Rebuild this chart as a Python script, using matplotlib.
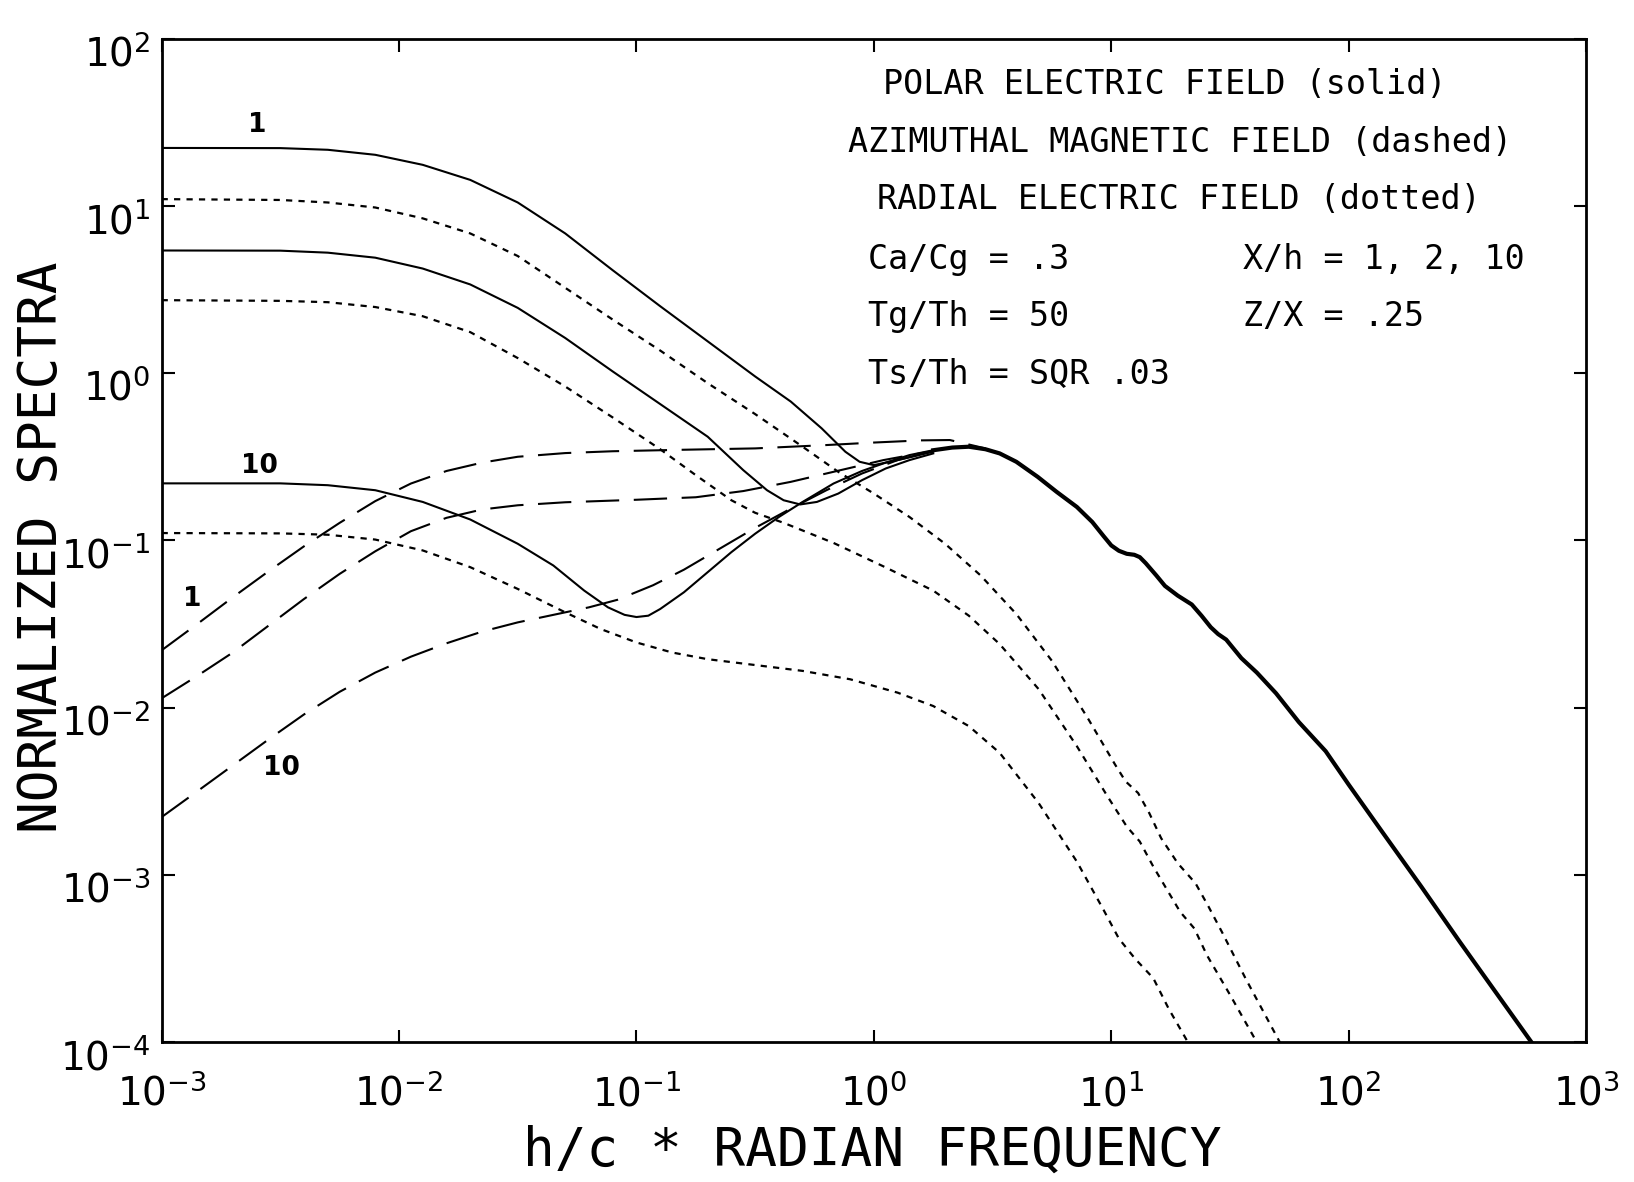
import numpy as np
import matplotlib
matplotlib.use('Agg')
import matplotlib.pyplot as plt
import matplotlib.transforms as mtrans

# valores, en log10 (x = h/c * frecuencia, y = espectro normalizado)
# campo electrico polar (solido), X/h = 1, 2, 10
s1_x = [-3.0, -2.5, -2.3, -2.1, -1.9, -1.7, -1.5, -1.3, -1.1, -0.9, -0.7, -0.5, -0.35, -0.22, -0.12, -0.06, 0.0, 0.1, 0.25]
s1_y = [1.346, 1.345, 1.335, 1.305, 1.245, 1.155, 1.02, 0.835, 0.615, 0.40, 0.19, -0.02, -0.17, -0.33, -0.47, -0.53, -0.55, -0.52, -0.47]
s2_x = [-3.0, -2.5, -2.3, -2.1, -1.9, -1.7, -1.5, -1.3, -1.1, -0.9, -0.7, -0.55, -0.45, -0.38, -0.31, -0.24, -0.15, -0.05, 0.05, 0.15, 0.25]
s2_y = [0.733, 0.732, 0.72, 0.69, 0.625, 0.53, 0.39, 0.21, 0.01, -0.185, -0.38, -0.58, -0.70, -0.76, -0.785, -0.77, -0.72, -0.64, -0.57, -0.52, -0.48]
s10_x = [-3.0, -2.5, -2.3, -2.1, -1.9, -1.7, -1.5, -1.35, -1.22, -1.12, -1.05, -1.0, -0.95, -0.9, -0.8, -0.7, -0.6, -0.5,
         -0.4, -0.3, -0.17, -0.05, 0.05, 0.15, 0.25]
s10_y = [-0.659, -0.659, -0.67, -0.70, -0.77, -0.875, -1.02, -1.15, -1.30, -1.40, -1.445, -1.458, -1.45, -1.41, -1.31, -1.19,
         -1.07, -0.96, -0.86, -0.77, -0.66, -0.585, -0.535, -0.49, -0.461]
# tramo comun de alta frecuencia (las tres curvas superpuestas)
tail_x = [0.25, 0.33, 0.40, 0.47, 0.53, 0.6, 0.69, 0.77, 0.855, 0.92, 0.968, 1.0, 1.032, 1.065, 1.097, 1.12, 1.145, 1.19,
          1.226, 1.28, 1.339, 1.38, 1.419, 1.45, 1.484, 1.548, 1.613, 1.694, 1.79, 1.903, 2.0, 2.145, 2.306, 2.468, 2.629, 2.77]
tail_y = [-0.461, -0.445, -0.44, -0.455, -0.48, -0.53, -0.62, -0.71, -0.80, -0.89, -0.975, -1.03, -1.062, -1.08, -1.086, -1.10,
          -1.136, -1.21, -1.272, -1.33, -1.383, -1.45, -1.519, -1.56, -1.593, -1.704, -1.79, -1.914, -2.086, -2.26, -2.46, -2.75,
          -3.07, -3.40, -3.72, -4.0]

# campo magnetico azimutal (rayas)
m1_x = [-3.0, -2.85, -2.7, -2.55, -2.4, -2.25, -2.1, -1.95, -1.8, -1.65, -1.5, -1.3, -1.1, -0.8, -0.5, -0.2, 0.0, 0.2, 0.32, 0.47]
m1_y = [-1.657, -1.50, -1.34, -1.185, -1.035, -0.895, -0.765, -0.66, -0.585, -0.535, -0.50, -0.478, -0.467, -0.458, -0.45,
        -0.43, -0.415, -0.402, -0.40, -0.45]
m2_x = [-3.0, -2.85, -2.7, -2.55, -2.4, -2.25, -2.1, -1.95, -1.8, -1.65, -1.5, -1.3, -1.0, -0.75, -0.55, -0.35, -0.17, 0.04, 0.25]
m2_y = [-1.944, -1.81, -1.67, -1.51, -1.35, -1.20, -1.065, -0.945, -0.865, -0.815, -0.79, -0.772, -0.757, -0.742, -0.705,
        -0.65, -0.59, -0.52, -0.465]
m10_x = [-3.0, -2.85, -2.7, -2.55, -2.4, -2.25, -2.1, -1.95, -1.8, -1.65, -1.5, -1.35, -1.2, -1.08, -0.93, -0.8, -0.65,
         -0.5, -0.35, -0.2, -0.05, 0.1, 0.25]
m10_y = [-2.654, -2.50, -2.345, -2.19, -2.04, -1.905, -1.79, -1.695, -1.615, -1.545, -1.49, -1.445, -1.40, -1.355, -1.268,
         -1.175, -1.05, -0.925, -0.81, -0.70, -0.60, -0.52, -0.465]

# campo electrico radial (puntos)
d1_x = [-3.0, -2.5, -2.3, -2.1, -1.9, -1.7, -1.5, -1.3, -1.1, -0.9, -0.7, -0.5, -0.3, -0.15, 0.0, 0.15, 0.3, 0.45, 0.6,
        0.75, 0.9, 1.016, 1.06, 1.113, 1.16, 1.21, 1.28, 1.355, 1.41, 1.468, 1.565, 1.71]
d1_y = [1.04, 1.035, 1.02, 0.99, 0.925, 0.835, 0.70, 0.51, 0.32, 0.135, -0.06, -0.245, -0.44, -0.59, -0.72, -0.86, -1.02,
        -1.21, -1.44, -1.72, -2.06, -2.34, -2.44, -2.51, -2.63, -2.78, -2.93, -3.05, -3.19, -3.346, -3.617, -4.0]
d2_x = [-3.0, -2.5, -2.3, -2.1, -1.9, -1.7, -1.5, -1.3, -1.1, -0.9, -0.75, -0.6, -0.5, -0.38, -0.17, 0.04, 0.25, 0.4, 0.53,
        0.694, 0.855, 0.984, 1.065, 1.12, 1.177, 1.29, 1.35, 1.403, 1.5, 1.613]
d2_y = [0.436, 0.432, 0.424, 0.395, 0.34, 0.245, 0.09, -0.08, -0.265, -0.455, -0.61, -0.76, -0.835, -0.895, -1.015, -1.155,
        -1.30, -1.45, -1.62, -1.889, -2.23, -2.53, -2.71, -2.80, -2.95, -3.22, -3.32, -3.48, -3.716, -4.0]
d10_x = [-3.0, -2.5, -2.3, -2.1, -1.9, -1.7, -1.5, -1.3, -1.15, -1.0, -0.85, -0.7, -0.5, -0.3, -0.1, 0.1, 0.25, 0.4, 0.53,
         0.694, 0.855, 0.968, 1.032, 1.1, 1.177, 1.242, 1.323]
d10_y = [-0.956, -0.958, -0.966, -0.995, -1.06, -1.16, -1.29, -1.43, -1.53, -1.61, -1.67, -1.71, -1.745, -1.78, -1.83,
         -1.91, -1.99, -2.11, -2.27, -2.57, -2.92, -3.21, -3.38, -3.50, -3.617, -3.80, -4.0]

exp_x = [-3, -2, -1, 0, 1, 2, 3]
exp_y = [-4, -3, -2, -1, 0, 1, 2]

mono = 'DejaVu Sans Mono'
plt.rcParams['mathtext.fontset'] = 'custom'
plt.rcParams['mathtext.rm'] = mono
plt.rcParams['mathtext.default'] = 'regular'

fig = plt.figure(figsize=(16.34, 11.82), dpi=100)
ax = fig.add_axes([0.0989, 0.1182, 0.8718, 0.8492])

def p(x, y):
    return 10.0 ** np.array(x), 10.0 ** np.array(y)

for xs, ys in [(s1_x, s1_y), (s2_x, s2_y), (s10_x, s10_y)]:
    ax.plot(*p(xs, ys), color='black', lw=1.5, ls='-')
ax.plot(*p(tail_x, tail_y), color='black', lw=3.0, ls='-')
for xs, ys in [(m1_x, m1_y), (m2_x, m2_y), (m10_x, m10_y)]:
    ax.plot(*p(xs, ys), color='black', lw=1.5, ls=(0, (16, 7)))
for xs, ys in [(d1_x, d1_y), (d2_x, d2_y), (d10_x, d10_y)]:
    ax.plot(*p(xs, ys), color='black', lw=1.6, ls=(0, (2.8, 2.8)))

ax.set_xscale('log')
ax.set_yscale('log')
ax.set_xlim(1e-3, 1e3)
ax.set_ylim(1e-4, 1e2)

ax.set_xticks([10.0 ** e for e in exp_x])
ax.set_xticklabels([f'$10^{{{e}}}$' for e in exp_x])
ax.set_yticks([10.0 ** e for e in exp_y])
ax.set_yticklabels([f'$10^{{{e}}}$' for e in exp_y])
ax.minorticks_off()
ax.tick_params(which='major', direction='in', length=9, width=1.5,
               top=True, right=True, labelsize=28)
ax.tick_params(axis='x', pad=23)
ax.tick_params(axis='y', pad=8)
for lab in ax.get_yticklabels():
    lab.set_transform(lab.get_transform() + mtrans.ScaledTranslation(0, -0.12, fig.dpi_scale_trans))
for s in ax.spines.values():
    s.set_linewidth(2)

# etiquetas X/h de las curvas
for txt, x, y in [('1', 10 ** -2.596, 10 ** 1.483), ('10', 10 ** -2.588, 10 ** -0.555),
                  ('1', 10 ** -2.873, 10 ** -1.352), ('10', 10 ** -2.496, 10 ** -2.361)]:
    ax.text(x, y, txt, ha='center', va='center', fontsize=19, fontweight='bold')

fs = 24
ax.text(0.7045, 0.945, 'POLAR ELECTRIC FIELD (solid)', transform=ax.transAxes, ha='center', va='baseline', fontsize=fs, family=mono)
ax.text(0.7147, 0.8868, 'AZIMUTHAL MAGNETIC FIELD (dashed)', transform=ax.transAxes, ha='center', va='baseline', fontsize=fs, family=mono)
ax.text(0.714, 0.8297, 'RADIAL ELECTRIC FIELD (dotted)', transform=ax.transAxes, ha='center', va='baseline', fontsize=fs, family=mono)
ax.text(0.496, 0.7705, 'Ca/Cg = .3', transform=ax.transAxes, ha='left', va='baseline', fontsize=fs, family=mono)
ax.text(0.7593, 0.7705, 'X/h = 1, 2, 10', transform=ax.transAxes, ha='left', va='baseline', fontsize=fs, family=mono)
ax.text(0.496, 0.7134, 'Tg/Th = 50', transform=ax.transAxes, ha='left', va='baseline', fontsize=fs, family=mono)
ax.text(0.7593, 0.7134, 'Z/X = .25', transform=ax.transAxes, ha='left', va='baseline', fontsize=fs, family=mono)
ax.text(0.496, 0.6563, 'Ts/Th = SQR .03', transform=ax.transAxes, ha='left', va='baseline', fontsize=fs, family=mono)

ax.text(0.499, -0.108, 'h/c * RADIAN FREQUENCY', transform=ax.transAxes, ha='center', va='center', fontsize=38, family=mono)
ax.text(-0.084, 0.493, 'NORMALIZED SPECTRA', transform=ax.transAxes, ha='center', va='center', fontsize=38,
        family=mono, rotation=90)

fig.savefig('out.png', dpi=100)
